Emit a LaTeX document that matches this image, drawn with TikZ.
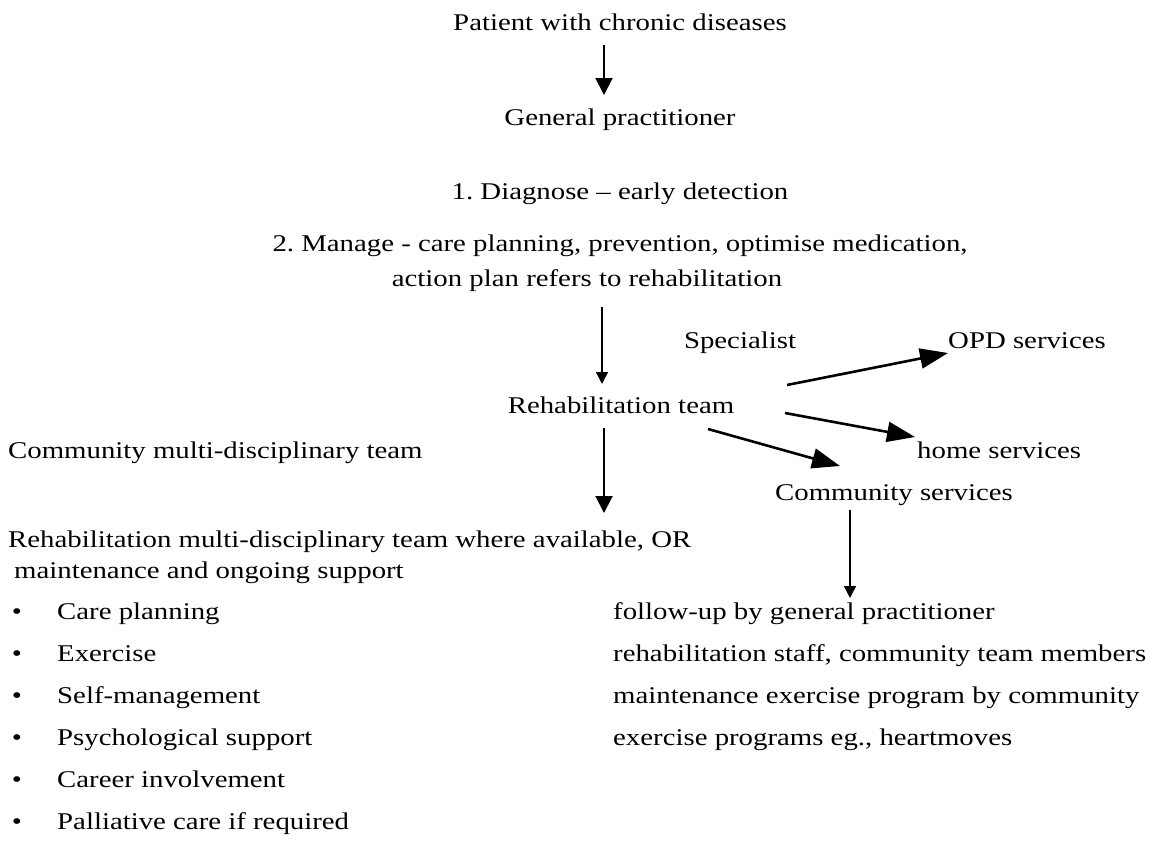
\documentclass[tikz,border=0pt]{standalone}
\usepackage{fontspec}
\setmainfont{Liberation Serif}[FakeStretch=1.2]
\usetikzlibrary{arrows.meta}
\begin{document}
\frenchspacing
\begin{tikzpicture}[x=1pt,y=-1pt,
  txt/.style={inner sep=0pt, font=\fontsize{24}{28}\selectfont},
  bigarr/.style={line width=2pt, -{Triangle[length=17pt,width=17pt]}},
  thinarr/.style={line width=1.4pt, -{Triangle[length=12pt,width=12pt]}},
  wedge/.style={line width=2.6pt, -{Triangle[length=28pt,width=20pt]}}]
\useasboundingbox (0,0) rectangle (1172,841);
% text
\node[txt,anchor=base] (pat) at (620,30) {Patient with chronic diseases};
\node[txt,anchor=base] (gp) at (620,125) {General practitioner};
\node[txt,anchor=base] (diag) at (620,199) {1. Diagnose – early detection};
\node[txt,anchor=base] (man1) at (620,251) {2. Manage - care planning, prevention, optimise medication,};
\node[txt,anchor=base] (man2) at (587,286) {action plan refers to rehabilitation};
\node[txt,anchor=base] (spec) at (740,348) {Specialist};
\node[txt,anchor=base west] (opd) at (948,348) {OPD services};
\node[txt,anchor=base] (rt) at (621,413) {Rehabilitation team};
\node[txt,anchor=base west] (cmt) at (8,458) {Community multi-disciplinary team};
\node[txt,anchor=base west] (home) at (917,458) {home services};
\node[txt,anchor=base west] (cs) at (775,500) {Community services};
\node[txt,anchor=base west] (rm1) at (8,547) {Rehabilitation multi-disciplinary team where available, OR};
\node[txt,anchor=base west] (rm2) at (14,578) {maintenance and ongoing support};
\foreach \t [count=\i from 0] in {Care planning,Exercise,Self-management,Psychological support,Career involvement,Palliative care if required}{
  \node[txt,anchor=base] (b\i) at (17,619+42*\i) {•};
  \node[txt,anchor=base west] (l\i) at (57,619+42*\i) {\t};
}
\foreach \t [count=\i from 0] in {follow-up by general practitioner,{rehabilitation staff, community team members},maintenance exercise program by community,{exercise programs eg., heartmoves}}{
  \node[txt,anchor=base west] (r\i) at (613,619+42*\i) {\t};
}
% connector ends
\coordinate (a1s) at (604,45);  \coordinate (a1e) at (604,95);
\coordinate (a2s) at (602,307); \coordinate (a2e) at (602,384);
\coordinate (a3s) at (787,385); \coordinate (a3e) at (948,353);
\coordinate (a4s) at (785,413); \coordinate (a4e) at (915,437);
\coordinate (a5s) at (708,429); \coordinate (a5e) at (840,466);
\coordinate (a6s) at (604,428); \coordinate (a6e) at (604,513);
\coordinate (a7s) at (850,510); \coordinate (a7e) at (850,598);
\draw[bigarr] (a1s) -- (a1e);
\draw[thinarr] (a2s) -- (a2e);
\draw[wedge] (a3s) -- (a3e);
\draw[wedge] (a4s) -- (a4e);
\draw[wedge] (a5s) -- (a5e);
\draw[bigarr] (a6s) -- (a6e);
\draw[thinarr] (a7s) -- (a7e);
\end{tikzpicture}
\end{document}
